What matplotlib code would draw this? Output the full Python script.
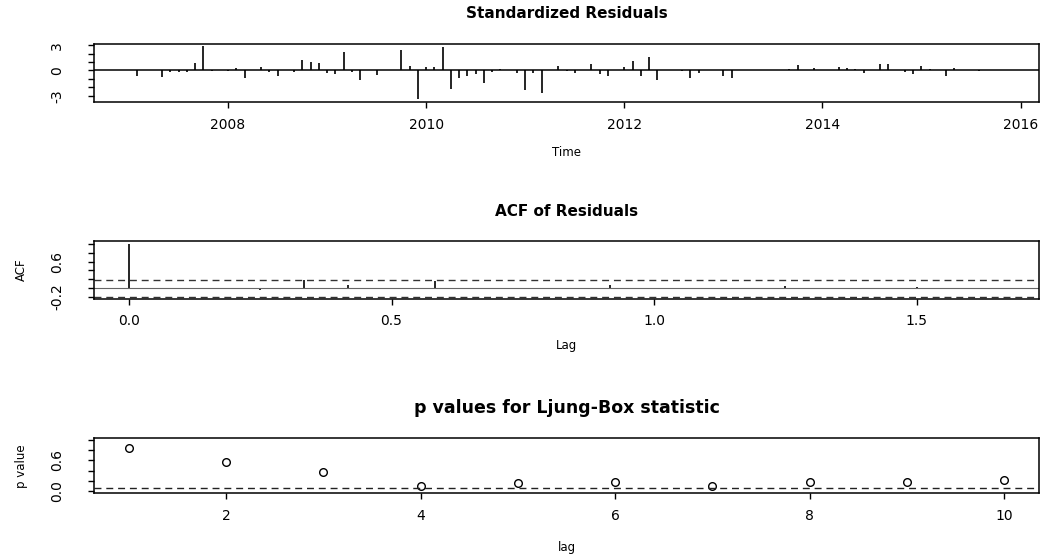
import numpy as np
import matplotlib
matplotlib.use("Agg")
import matplotlib.pyplot as plt

# ---------------- data ----------------
start_year = 2007
residuals = [
    0.0, -0.63, 0.0, 0.0, -0.75, -0.15, -0.15, -0.15, 0.87, 2.86,
    -0.12, 0.0, -0.1, 0.24, -0.9, 0.0, 0.4, -0.15, -0.6, 0.0,
    -0.15, 1.3, 1.0, 0.85, -0.3, -0.45, 2.2, -0.15, -1.1, 0.0,
    -0.5, 0.0, 0.0, 2.4, 0.55, -3.4, 0.4, 0.4, 2.75, -2.2,
    -0.9, -0.6, -0.4, -1.5, -0.15, 0.2, 0.0, -0.25, -2.3, -0.3,
    -2.7, 0.0, 0.5, -0.12, -0.3, 0.0, 0.8, -0.4, -0.7, 0.05,
    0.4, 1.15, -0.7, 1.6, -1.1, 0.0, 0.0, -0.12, -0.9, -0.3,
    0.0, 0.0, -0.7, -0.9, 0.0, 0.0, 0.0, 0.0, 0.0, 0.0,
    0.2, 0.7, 0.0, 0.35, 0.0, 0.0, 0.4, 0.3, 0.2, -0.3,
    0.0, 0.8, 0.8, 0.0, -0.15, -0.45, 0.5, 0.2, 0.0, -0.65,
    0.25, 0.0, 0.0, -0.12, 0.0, 0.0, 0.0,
]
time_ticks = [2008, 2010, 2012, 2014, 2016]

acf_lags = list(range(21))  # lag index (months)
acf_values = [1.0, 0.004, -0.02, -0.05, 0.19, 0.07, -0.01, 0.15, 0.004, -0.02,
              0.003, 0.08, 0.003, -0.02, 0.003, 0.04, 0.003, 0.003, 0.03, 0.003, -0.02]
acf_conf = 0.19
acf_ticks = [0.0, 0.5, 1.0, 1.5]

lb_lags = [1, 2, 3, 4, 5, 6, 7, 8, 9, 10]
lb_pvalues = [0.845, 0.568, 0.38, 0.097, 0.16, 0.174, 0.10, 0.174, 0.174, 0.22]
lb_ticks = [2, 4, 6, 8, 10]

# ---------------- layout ----------------
W, H = 1042, 559
fig = plt.figure(figsize=(W / 100, H / 100), dpi=100)
plt.rcParams['font.family'] = ['DejaVu Sans']

def rect(l, r, t, b):
    return [l / W, 1 - b / H, (r - l) / W, (b - t) / H]

TICK_FS = 10
TITLE_FS = 11
LBL_FS = 8.5

def style(ax):
    for s in ax.spines.values():
        s.set_linewidth(1.1)
        s.set_color('black')
    ax.tick_params(direction='out', length=4.5, width=1.0, labelsize=TICK_FS, color='black')
    ax.tick_params(axis='x', pad=7)
    ax.tick_params(axis='y', pad=17)
    for lab in ax.get_yticklabels():
        lab.set_rotation(90)
        lab.set_va('center')

cx = (94 + 1039) / 2 / W

# Panel 1: standardized residuals
ax1 = fig.add_axes(rect(94, 1039, 44, 102))
n = len(residuals)
t = start_year + np.arange(n) / 12.0
ax1.vlines(t, 0, residuals, color='black', lw=1.2)
ax1.axhline(0, color='black', lw=1.1)
span = t[-1] - t[0]
ax1.set_xlim(t[0] - 0.04 * span, t[-1] + 0.04 * span)
ax1.set_ylim(-3.75, 3.15)
ax1.set_xticks(time_ticks)
ax1.set_xticklabels([str(v) for v in time_ticks])
ax1.set_yticks([-3, -2, -1, 0, 1, 2, 3])
ax1.set_yticklabels(['-3', '', '', '0', '', '', '3'])
style(ax1)
fig.text(cx, 1 - 13 / H, 'Standardized Residuals', ha='center', va='center',
         fontsize=TITLE_FS, fontweight='bold')
fig.text(cx, 1 - 152 / H, 'Time', ha='center', va='center', fontsize=LBL_FS)

# Panel 2: ACF of residuals
ax2 = fig.add_axes(rect(94, 1039, 241, 298.5))
lag_years = np.array(acf_lags) / 12.0
ax2.vlines(lag_years, 0, acf_values, color='black', lw=1.2)
ax2.axhline(0, color='#666666', lw=0.8)
ax2.axhline(acf_conf, color='#333333', lw=1.0, dashes=(5, 3.5))
ax2.axhline(-acf_conf, color='#333333', lw=1.0, dashes=(5, 3.5))
lspan = lag_years[-1] - lag_years[0]
ax2.set_xlim(lag_years[0] - 0.04 * lspan, lag_years[-1] + 0.04 * lspan)
ax2.set_ylim(-0.235, 1.065)
ax2.set_xticks(acf_ticks)
ax2.set_xticklabels([f'{v:.1f}' for v in acf_ticks])
ax2.set_yticks([-0.2, 0.0, 0.2, 0.4, 0.6, 0.8, 1.0])
ax2.set_yticklabels(['-0.2', '', '', '', '0.6', '', ''])
style(ax2)
fig.text(cx, 1 - 212 / H, 'ACF of Residuals', ha='center', va='center',
         fontsize=TITLE_FS, fontweight='bold')
fig.text(cx, 1 - 345 / H, 'Lag', ha='center', va='center', fontsize=LBL_FS)
fig.text(21 / W, 1 - 270 / H, 'ACF', ha='center', va='center', rotation=90, fontsize=LBL_FS)

# Panel 3: Ljung-Box p-values
ax3 = fig.add_axes(rect(94, 1039, 438, 493))
ax3.plot(lb_lags, lb_pvalues, 'o', mfc='none', mec='black', ms=5.5, mew=1.0)
ax3.axhline(0.05, color='#222222', lw=1.0, dashes=(5, 3.5))
ax3.set_xlim(0.64, 10.36)
ax3.set_ylim(-0.04, 1.04)
ax3.set_xticks(lb_ticks)
ax3.set_xticklabels([str(v) for v in lb_ticks])
ax3.set_yticks([0.0, 0.2, 0.4, 0.6, 0.8, 1.0])
ax3.set_yticklabels(['0.0', '', '', '0.6', '', ''])
style(ax3)
fig.text(cx, 1 - 408 / H, 'p values for Ljung-Box statistic', ha='center', va='center',
         fontsize=12.5, fontweight='bold')
fig.text(cx, 1 - 548 / H, 'lag', ha='center', va='center', fontsize=LBL_FS)
fig.text(21 / W, 1 - 466 / H, 'p value', ha='center', va='center', rotation=90, fontsize=LBL_FS)

fig.savefig('out.png', dpi=100)
